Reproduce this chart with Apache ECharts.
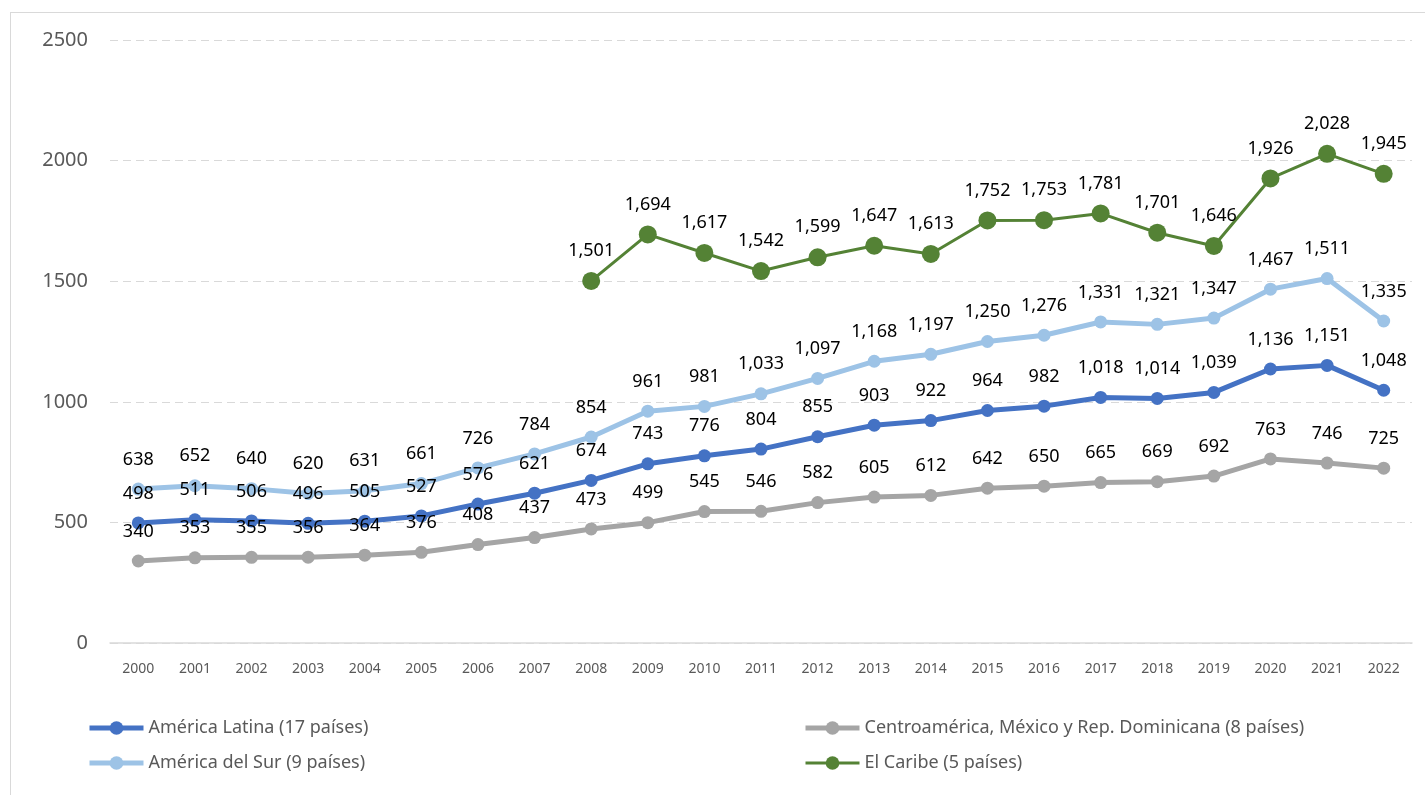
<!DOCTYPE html>
<html>
<head>
<meta charset="utf-8">
<script src="https://cdn.jsdelivr.net/npm/echarts@6/dist/echarts.min.js"></script>
<style>
  html, body { margin: 0; padding: 0; background: #fff; }
  #frame { position: absolute; left: 10px; top: 12px; width: 1425px; height: 790px; border: 1px solid #D9D9D9; box-sizing: border-box; }
  #chart { position: absolute; left: 0; top: 0; width: 1425px; height: 795px; }
</style>
</head>
<body>
<div id="frame"></div>
<div id="chart"></div>
<script>
const years = ['2000', '2001', '2002', '2003', '2004', '2005', '2006', '2007', '2008', '2009', '2010', '2011',
  '2012', '2013', '2014', '2015', '2016', '2017', '2018', '2019', '2020', '2021', '2022'];
const americaLatina = [498, 511, 506, 496, 505, 527, 576, 621, 674, 743, 776, 804, 855, 903, 922, 964, 982, 1018, 1014, 1039, 1136, 1151, 1048];
const americaSur = [638, 652, 640, 620, 631, 661, 726, 784, 854, 961, 981, 1033, 1097, 1168, 1197, 1250, 1276, 1331, 1321, 1347, 1467, 1511, 1335];
const centroamerica = [340, 353, 355, 356, 364, 376, 408, 437, 473, 499, 545, 546, 582, 605, 612, 642, 650, 665, 669, 692, 763, 746, 725];
const caribe = [null, null, null, null, null, null, null, null, 1501, 1694, 1617, 1542, 1599, 1647, 1613, 1752, 1753, 1781, 1701, 1646, 1926, 2028, 1945];

const FONT = '"Noto Sans", sans-serif';
const myChart = echarts.init(document.getElementById('chart'));

// etiqueta encima del punto, con separador de miles
function lbl(dist) {
  return {
    show: true,
    position: 'top',
    distance: dist,
    color: '#000',
    fontSize: 18,
    fontFamily: FONT,
    formatter: p => (p.value == null ? '' : Number(p.value).toLocaleString('en-US'))
  };
}

function serie(name, data, color, width, size, dist) {
  return {
    name: name,
    type: 'line',
    data: data,
    symbol: 'circle',
    symbolSize: size,
    showAllSymbol: true,
    connectNulls: false,
    lineStyle: { color: color, width: width },
    itemStyle: { color: color },
    label: lbl(dist),
    emphasis: { disabled: true },
    z: 2
  };
}

function legItem(name, width) {
  return { name: name, lineStyle: { width: width } };
}

const legendText = { color: '#595959', fontSize: 18, fontFamily: FONT };

myChart.setOption({
  animation: false,
  grid: { left: 110, right: 13, top: 40, bottom: 152, containLabel: false },
  legend: [
    {
      orient: 'vertical', left: 82, top: 714, itemGap: 17, itemWidth: 54, itemHeight: 17,
      textStyle: legendText,
      data: [legItem('América Latina (17 países)', 5), legItem('América del Sur (9 países)', 5)]
    },
    {
      orient: 'vertical', left: 798, top: 714, itemGap: 17, itemWidth: 54, itemHeight: 17,
      textStyle: legendText,
      data: [legItem('Centroamérica, México y Rep. Dominicana (8 países)', 5), legItem('El Caribe (5 países)', 3)]
    }
  ],
  xAxis: {
    type: 'category',
    data: years,
    boundaryGap: true,
    axisLine: { lineStyle: { color: '#D9D9D9', width: 1.5 } },
    axisTick: { show: false },
    axisLabel: { color: '#595959', fontSize: 14, fontFamily: FONT, margin: 19 }
  },
  yAxis: {
    type: 'value',
    min: 0,
    max: 2500,
    interval: 500,
    axisLine: { show: false },
    axisTick: { show: false },
    axisLabel: { color: '#595959', fontSize: 20, fontFamily: FONT, margin: 22, formatter: v => String(v) },
    splitLine: { lineStyle: { color: '#D9D9D9', type: [8, 5], width: 1.2 } }
  },
  series: [
    serie('América Latina (17 países)', americaLatina, '#4472C4', 5, 13, 14),
    serie('Centroamérica, México y Rep. Dominicana (8 países)', centroamerica, '#A5A5A5', 5, 13, 14),
    serie('América del Sur (9 países)', americaSur, '#9DC3E6', 5, 13, 14),
    serie('El Caribe (5 países)', caribe, '#548235', 3, 18, 12)
  ]
});
</script>
</body>
</html>
